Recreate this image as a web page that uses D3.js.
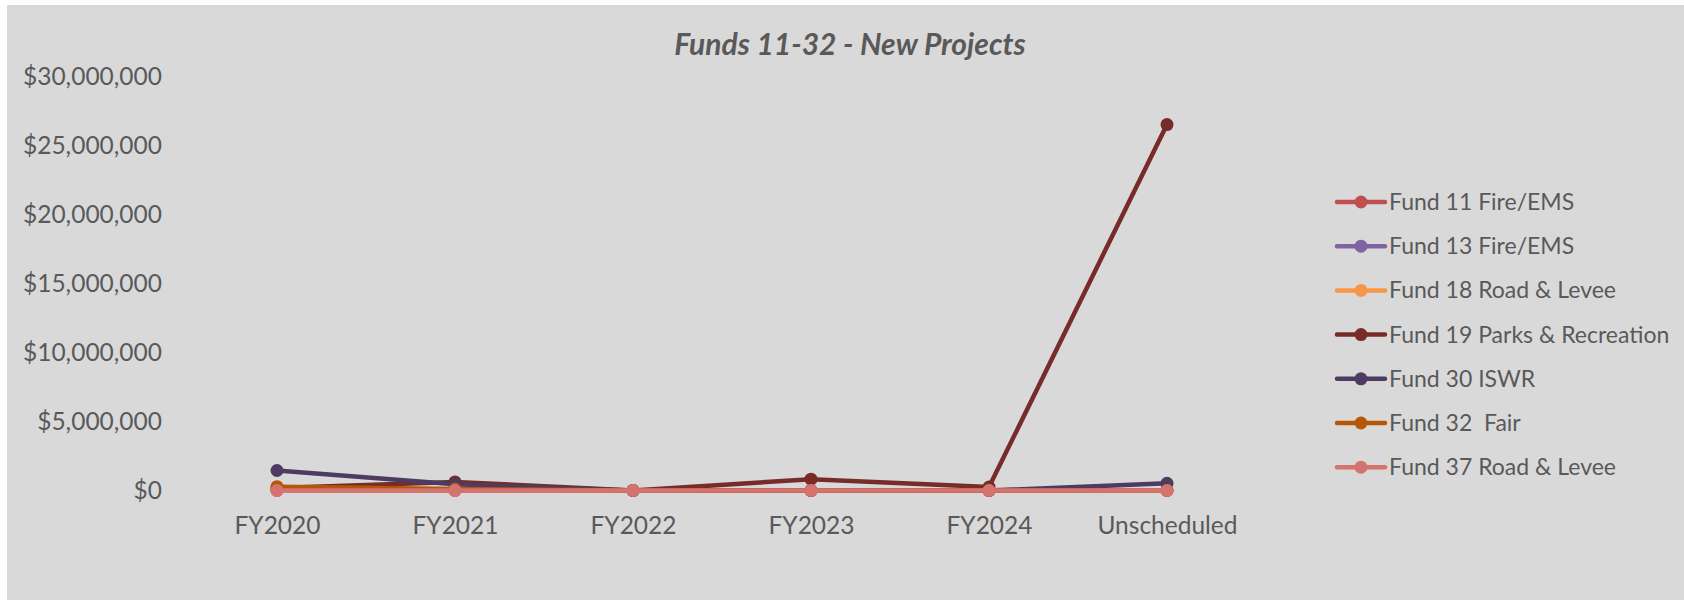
<!doctype html>
<html>
<head>
    <meta charset="UTF-8">
    <title>Funds 11-32 - New Projects</title>
    <script src="https://d3js.org/d3.v7.min.js"></script>
    <style>
        body { margin: 0; background: #fff; }
        text { font-family: Lato, "Open Sans", sans-serif; fill: #595959; }
    </style>
</head>
<body>
    <svg class="chart" width="1684" height="600"></svg>
    <script>
        // data
        var years = ["FY2020", "FY2021", "FY2022", "FY2023", "FY2024", "Unscheduled"];
        var funds = ["Fund 11 Fire/EMS", "Fund 13 Fire/EMS", "Fund 18 Road & Levee",
            "Fund 19 Parks & Recreation", "Fund 30 ISWR", "Fund 32  Fair", "Fund 37 Road & Levee"];
        var fund11 = [0, 0, 0, 0, 0, 0];
        var fund13 = [0, 0, 0, 0, 0, 0];
        var fund18 = [0, 0, 0, 0, 0, 0];
        var fund19 = [180000, 620000, 0, 820000, 250000, 26550000];
        var fund30 = [1450000, 450000, 0, 0, 0, 520000];
        var fund32 = [280000, 100000, 0, 0, 0, 0];
        var fund37 = [0, 0, 0, 0, 0, 0];
        var yTicks = [0, 5000000, 10000000, 15000000, 20000000, 25000000, 30000000];
        var colors = ["#c0504d", "#8064a2", "#f79646", "#772c2a", "#4d3b62", "#b65708", "#d4736f"];

        var values = [fund11, fund13, fund18, fund19, fund30, fund32, fund37];

        var svg = d3.select(".chart");

        // background frame
        svg.append("rect")
            .attr("x", 7).attr("y", 5)
            .attr("width", 1677).attr("height", 595)
            .attr("fill", "#d9d9d9");

        var x = d3.scalePoint().domain(years).range([277, 1167]);
        var y = d3.scaleLinear().domain([0, 30000000]).range([490.5, 77]);
        var fmt = d3.format("$,.0f");

        // title
        svg.append("text")
            .attr("x", 850).attr("y", 55)
            .attr("text-anchor", "middle")
            .style("font-size", "30px")
            .style("font-weight", "bold")
            .style("font-style", "italic")
            .text("Funds 11-32 - New Projects");

        // y axis
        var yAxis = d3.axisLeft(y).tickValues(yTicks).tickFormat(fmt).tickSize(0).tickPadding(0);
        var gy = svg.append("g").attr("transform", "translate(162,0)").call(yAxis);
        gy.select(".domain").remove();
        gy.selectAll("text").style("font-size", "24.5px").style("fill", "#595959")
            .style("font-family", "Lato, sans-serif");

        // x axis
        var xAxis = d3.axisBottom(x).tickSize(0).tickPadding(0);
        var gx = svg.append("g").attr("transform", "translate(0,517)").call(xAxis);
        gx.select(".domain").remove();
        gx.selectAll("text").style("font-size", "24.5px").style("fill", "#595959")
            .style("font-family", "Lato, sans-serif");

        // lines
        var line = d3.line()
            .x(function (d, i) { return x(years[i]); })
            .y(function (d) { return y(d); });

        for (var s = 0; s < values.length; s++) {
            var g = svg.append("g");
            g.append("path")
                .attr("d", line(values[s]))
                .attr("fill", "none")
                .attr("stroke", colors[s])
                .attr("stroke-width", 4.5)
                .attr("stroke-linejoin", "round")
                .attr("stroke-linecap", "round");
            g.selectAll("circle")
                .data(values[s])
                .enter().append("circle")
                .attr("cx", function (d, i) { return x(years[i]); })
                .attr("cy", function (d) { return y(d); })
                .attr("r", 6.5)
                .attr("fill", colors[s]);
        }

        // legend
        var legend = svg.append("g");
        for (var k = 0; k < funds.length; k++) {
            var ly = 202 + 44.2 * k;
            legend.append("line")
                .attr("x1", 1337).attr("x2", 1385)
                .attr("y1", ly).attr("y2", ly)
                .attr("stroke", colors[k]).attr("stroke-width", 4.5)
                .attr("stroke-linecap", "round");
            legend.append("circle")
                .attr("cx", 1361).attr("cy", ly).attr("r", 6.5)
                .attr("fill", colors[k]);
            legend.append("text")
                .attr("x", 1389).attr("y", ly + 8)
                .style("font-size", "23px")
                .style("white-space", "pre")
                .text(funds[k]);
        }
    </script>
</body>
</html>
